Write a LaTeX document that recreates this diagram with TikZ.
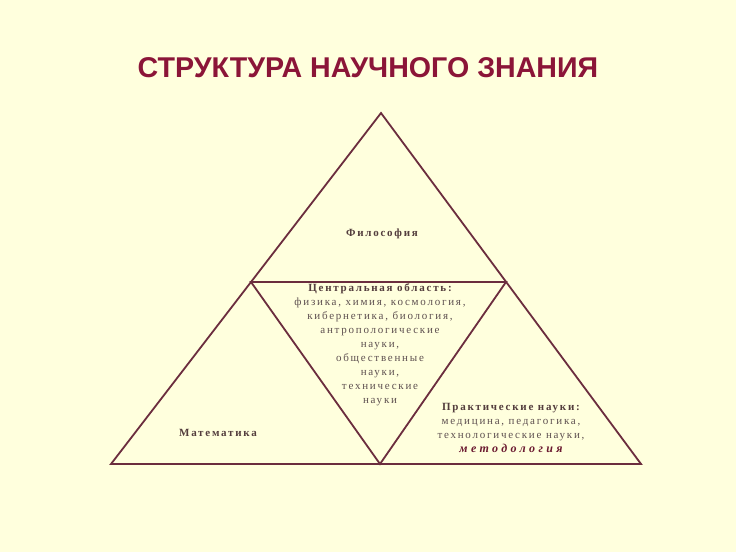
\documentclass[tikz,border=0pt]{standalone}
\usepackage{fontspec}
\setmainfont{Liberation Serif}
\newfontfamily\spacedfont[LetterSpace=16]{Liberation Serif}
\newfontfamily\widefont[LetterSpace=28]{Liberation Serif}
\newfontfamily\titlefont{Liberation Sans}
\definecolor{paper}{HTML}{FFFFDD}
\definecolor{edge}{HTML}{6B2D3E}
\definecolor{headred}{HTML}{8B1538}
\definecolor{plaintext}{HTML}{5E5050}
\definecolor{boldtext}{HTML}{533D3D}
\definecolor{accent}{HTML}{6B1A30}

\begin{document}
\begin{tikzpicture}[%
        x = 1pt,
        y = -1pt,
        zone text/.style = {%
          align = center,
          text = plaintext,
          font = \spacedfont\fontsize{11}{14}\selectfont,
          inner sep = 0pt,
        },
        zone head/.style = {%
          zone text,
          text = boldtext,
          font = \spacedfont\bfseries\fontsize{11}{14}\selectfont,
        },
        title text/.style = {%
          text = headred,
          font = \titlefont\bfseries\fontsize{28.6}{32}\selectfont,
        },
        edge line/.style = {%
          draw = edge,
          line width = 1.8pt,
          line join = miter,
        },
      ]
      \fill[paper] (0,0) rectangle (736,552);
      \useasboundingbox (0,0) rectangle (736,552);
      \node[title text] (title) at (368,68) {СТРУКТУРА НАУЧНОГО ЗНАНИЯ};
      % outer and inner triangles
      \coordinate (apex)   at (381,113);
      \coordinate (baseL)  at (111,464);
      \coordinate (baseR)  at (641,464);
      \coordinate (midL)   at (251,282);
      \coordinate (midR)   at (506,282);
      \coordinate (midB)   at (380,464);
      \draw[edge line] (baseL) -- (apex) -- (baseR) -- cycle;
      \draw[edge line] (midL) -- (midR) -- (midB) -- cycle;
      % labels
      \node[zone head] (filosofia) at (382,234) {Философия};
      \node[zone head] (matematika) at (218,433) {Математика};
      \node[zone text] (centr) at (380,345) {%
        {\bfseries\color{boldtext}Центральная область:}\\
        физика, химия, космология,\\
        кибернетика, биология,\\
        антропологические\\
        науки,\\
        общественные\\
        науки,\\
        технические\\
        науки};
      \node[zone text] (praktika) at (511,428) {%
        {\bfseries\color{boldtext}Практические науки:}\\
        медицина, педагогика,\\
        технологические науки,\\
        {\widefont\bfseries\itshape\fontsize{12}{14}\selectfont\color{accent}методология}};
    \end{tikzpicture}
\end{document}
